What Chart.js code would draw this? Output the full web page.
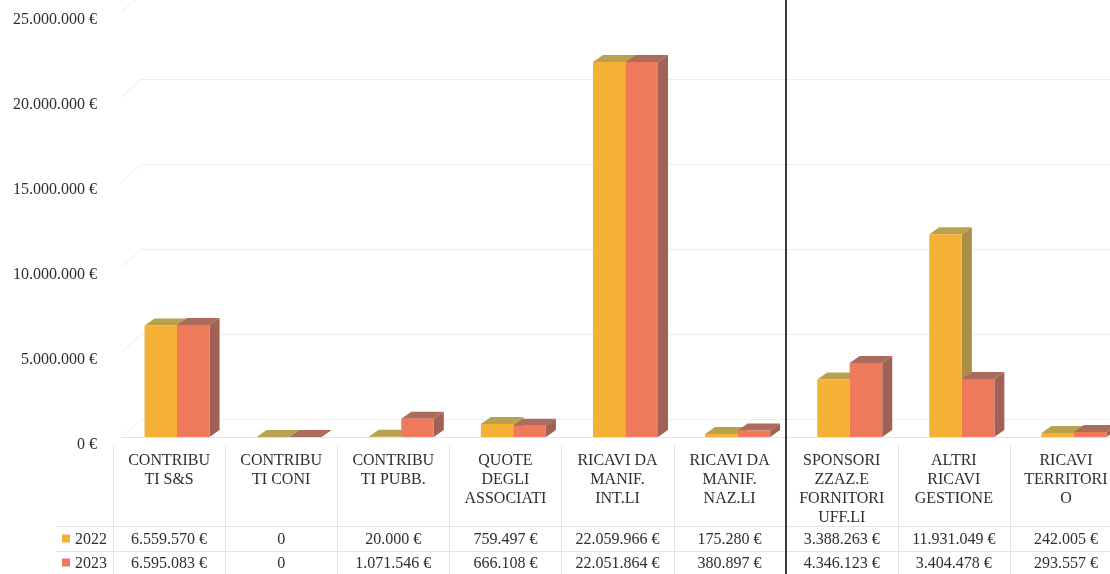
<!DOCTYPE html>
<html>
<head>
<meta charset="utf-8">
<script src="https://cdn.jsdelivr.net/npm/chart.js@4.4.1/dist/chart.umd.min.js"></script>
<style>
html,body{margin:0;padding:0;background:#fff;overflow:hidden;width:1110px;height:574px;}
canvas{display:block;}
</style>
</head>
<body>
<canvas id="c" width="1140" height="574"></canvas>
<script>
const categories = [
  ["CONTRIBU","TI S&S"],
  ["CONTRIBU","TI CONI"],
  ["CONTRIBU","TI PUBB."],
  ["QUOTE","DEGLI","ASSOCIATI"],
  ["RICAVI DA","MANIF.","INT.LI"],
  ["RICAVI DA","MANIF.","NAZ.LI"],
  ["SPONSORI","ZZAZ.E","FORNITORI","UFF.LI"],
  ["ALTRI","RICAVI","GESTIONE"],
  ["RICAVI","TERRITORI","O"]
];
const seriesNames = ["2022", "2023"];
const values2022 = [6559570, 0, 20000, 759497, 22059966, 175280, 3388263, 11931049, 242005];
const values2023 = [6595083, 0, 1071546, 666108, 22051864, 380897, 4346123, 3404478, 293557];
const yTicks = [0, 5000000, 10000000, 15000000, 20000000, 25000000];

const FRONT = ['#f4b135', '#ee7a5b'];
const TOP   = ['#b9a24e', '#ad6b5c'];
const SIDE  = ['#a98f47', '#9f6254'];
const TEXT = '#2e2e2e';
const FONT = '"Liberation Serif", "Times New Roman", serif';
const DX = 10, DY = 7;
const COL_SHIFT = -8;

function fmt(v){
  if (v === 0) return '0';
  return String(v).replace(/\B(?=(\d{3})+(?!\d))/g, '.') + ' €';
}

const threeD = {
  id: 'threeD',
  beforeDatasetsDraw(chart){
    const ctx = chart.ctx;
    const ys = chart.scales.y, a = chart.chartArea;
    ctx.save();
    ctx.strokeStyle = '#ededed';
    ctx.lineWidth = 1;
    yTicks.forEach(v => {
      const y = ys.getPixelForValue(v);
      ctx.beginPath();
      ctx.moveTo(a.left, y + 0.5);
      ctx.lineTo(a.left + 20, y - 17.5);
      ctx.lineTo(a.right, y - 17.5);
      ctx.stroke();
    });
    ctx.strokeStyle = '#e2e2e2';
    ctx.beginPath();
    ctx.moveTo(a.left, ys.getPixelForValue(0) + 0.5);
    ctx.lineTo(a.right, ys.getPixelForValue(0) + 0.5);
    ctx.stroke();
    chart.data.datasets.forEach((ds, di) => {
      const meta = chart.getDatasetMeta(di);
      meta.data.forEach(el => {
        const p = el.getProps(['x','y','base','width'], true);
        const L = p.x - p.width/2, R = p.x + p.width/2, T = p.y, B = p.base;
        ctx.fillStyle = SIDE[di];
        ctx.beginPath();
        ctx.moveTo(R, T); ctx.lineTo(R+DX, T-DY); ctx.lineTo(R+DX, B-DY); ctx.lineTo(R, B);
        ctx.closePath(); ctx.fill();
        ctx.fillStyle = TOP[di];
        ctx.beginPath();
        ctx.moveTo(L, T); ctx.lineTo(R, T); ctx.lineTo(R+DX, T-DY); ctx.lineTo(L+DX, T-DY);
        ctx.closePath(); ctx.fill();
      });
    });
    ctx.restore();
  },
  afterDraw(chart){
    const ctx = chart.ctx;
    const xs = chart.scales.x;
    const colW = xs.getPixelForValue(1) - xs.getPixelForValue(0);
    ctx.save();
    ctx.strokeStyle = '#e4e4e4';
    ctx.lineWidth = 1;
    for (let i = 0; i <= categories.length; i++){
      const x = Math.round(xs.getPixelForValue(i) + COL_SHIFT - colW/2) + 0.5;
      ctx.beginPath(); ctx.moveTo(x, 445); ctx.lineTo(x, 574); ctx.stroke();
    }
    ctx.beginPath(); ctx.moveTo(56, 526.5); ctx.lineTo(1140, 526.5); ctx.stroke();
    ctx.beginPath(); ctx.moveTo(56, 551.5); ctx.lineTo(1140, 551.5); ctx.stroke();
    ctx.font = '16px ' + FONT;
    ctx.fillStyle = TEXT;
    ctx.textAlign = 'center';
    ctx.textBaseline = 'middle';
    [values2022, values2023].forEach((arr, r) => {
      const y = r === 0 ? 539.5 : 563.5;
      arr.forEach((v, i) => {
        ctx.fillText(fmt(v), xs.getPixelForValue(i) + COL_SHIFT, y);
      });
      ctx.fillStyle = FRONT[r];
      ctx.fillRect(62, y - 5, 8, 8);
      ctx.fillStyle = TEXT;
      ctx.textAlign = 'left';
      ctx.fillText(seriesNames[r], 75, y);
      ctx.textAlign = 'center';
    });
    const sx = Math.round(xs.getPixelForValue(6) + COL_SHIFT - colW/2);
    ctx.fillStyle = '#3a3a3a';
    ctx.fillRect(sx - 1, 0, 2, 574);
    ctx.restore();
  }
};

new Chart(document.getElementById('c'), {
  type: 'bar',
  data: {
    labels: categories,
    datasets: [
      { label: seriesNames[0], data: values2022, backgroundColor: FRONT[0], borderWidth: 0 },
      { label: seriesNames[1], data: values2023, backgroundColor: FRONT[1], borderWidth: 0 }
    ]
  },
  options: {
    responsive: false,
    animation: false,
    layout: { padding: { top: 12, right: 10, left: 0, bottom: 0 } },
    plugins: { legend: { display: false }, tooltip: { enabled: false } },
    datasets: { bar: { categoryPercentage: 0.58, barPercentage: 1.0 } },
    scales: {
      x: {
        grid: { display: false, drawTicks: false },
        border: { display: false },
        ticks: {
          font: { family: FONT, size: 16, lineHeight: 1.2 },
          color: TEXT,
          labelOffset: COL_SHIFT,
          padding: 14,
          maxRotation: 0,
          minRotation: 0,
          autoSkip: false
        },
        afterFit(s){ s.height = 137; s.paddingLeft = 0; s.paddingRight = 0; }
      },
      y: {
        min: 0, max: 25000000,
        grid: { display: false, drawTicks: false },
        border: { display: false },
        afterBuildTicks(s){ s.ticks = yTicks.map(v => ({ value: v })); },
        ticks: {
          font: { family: FONT, size: 16 },
          color: TEXT,
          padding: 24,
          labelOffset: 8,
          callback: v => v === 0 ? '0 €' : fmt(v)
        },
        afterFit(s){ s.width = 121; s.paddingTop = 0; s.paddingBottom = 0; }
      }
    }
  },
  plugins: [threeD]
});
</script>
</body>
</html>
